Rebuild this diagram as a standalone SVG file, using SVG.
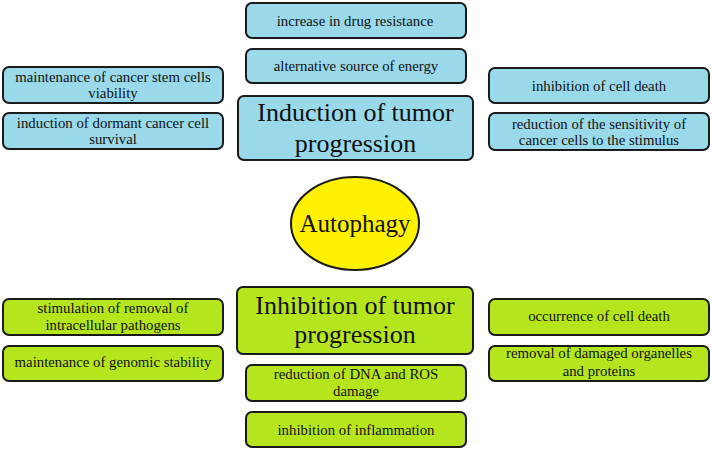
<svg xmlns="http://www.w3.org/2000/svg" width="712" height="450" viewBox="0 0 712 450">
<style>
rect{stroke:#1a1a1a;stroke-width:2}
.b{fill:#99d9ea}
.g{fill:#b5e61d}
text{font-family:'Liberation Serif','DejaVu Serif',serif;fill:#111;text-anchor:middle}
.s{font-size:14.8px}
.l{font-size:26px}
</style>
<rect width="712" height="450" fill="#fff" style="stroke:none"/>
<g font-family="Liberation Serif, DejaVu Serif, serif">
<g id="n-drug"><rect class="b" x="246" y="3" width="220" height="35" rx="6"/><text class="s" x="355" y="26">increase in drug resistance</text></g>
<g id="n-energy"><rect class="b" x="246" y="49" width="220" height="34" rx="6"/><text class="s" x="356" y="71">alternative source of energy</text></g>
<g id="n-induction"><rect class="b" x="238" y="96" width="235" height="64" rx="6"/><text class="l" x="355.5" y="121">Induction of tumor</text><text class="l" x="355.5" y="152">progression</text></g>
<g id="n-stem"><rect class="b" x="3" y="67" width="220" height="36" rx="6"/><text class="s" x="113" y="82">maintenance of cancer stem cells</text><text class="s" x="113" y="98">viability</text></g>
<g id="n-dormant"><rect class="b" x="3" y="113" width="220" height="36" rx="6"/><text class="s" x="113" y="128">induction of dormant cancer cell</text><text class="s" x="113" y="144">survival</text></g>
<g id="n-inhdeath"><rect class="b" x="489" y="68" width="220" height="35" rx="6"/><text class="s" x="599" y="91">inhibition of cell death</text></g>
<g id="n-sens"><rect class="b" x="489" y="113" width="220" height="37" rx="6"/><text class="s" x="599" y="129">reduction of the sensitivity of</text><text class="s" x="599" y="145">cancer cells to the stimulus</text></g>
<g id="n-autophagy"><ellipse cx="355" cy="223.5" rx="64" ry="46.5" fill="#fff200" stroke="#1a1a1a" stroke-width="2"/><text x="355" y="232" style="font-size:25px">Autophagy</text></g>
<g id="n-inhibition"><rect class="g" x="237" y="287" width="236" height="67" rx="6"/><text class="l" x="355" y="314">Inhibition of tumor</text><text class="l" x="355" y="343">progression</text></g>
<g id="n-pathogens"><rect class="g" x="3" y="299" width="220" height="36" rx="6"/><text class="s" x="113" y="313">stimulation of removal of</text><text class="s" x="113" y="330">intracellular pathogens</text></g>
<g id="n-genomic"><rect class="g" x="3" y="346" width="220" height="35" rx="6"/><text class="s" x="113" y="367">maintenance of genomic stability</text></g>
<g id="n-dna"><rect class="g" x="246" y="365" width="220" height="36" rx="6"/><text class="s" x="356" y="379">reduction of DNA and ROS</text><text class="s" x="356" y="396">damage</text></g>
<g id="n-inflammation"><rect class="g" x="246" y="412" width="220" height="35" rx="6"/><text class="s" x="356" y="435">inhibition of inflammation</text></g>
<g id="n-death"><rect class="g" x="489" y="299" width="220" height="36" rx="6"/><text class="s" x="599" y="321">occurrence of cell death</text></g>
<g id="n-organelles"><rect class="g" x="489" y="346" width="220" height="35" rx="6"/><text class="s" x="599" y="358">removal of damaged organelles</text><text class="s" x="599" y="376">and proteins</text></g>
</g>
<g id="connectors"></g>
</svg>
